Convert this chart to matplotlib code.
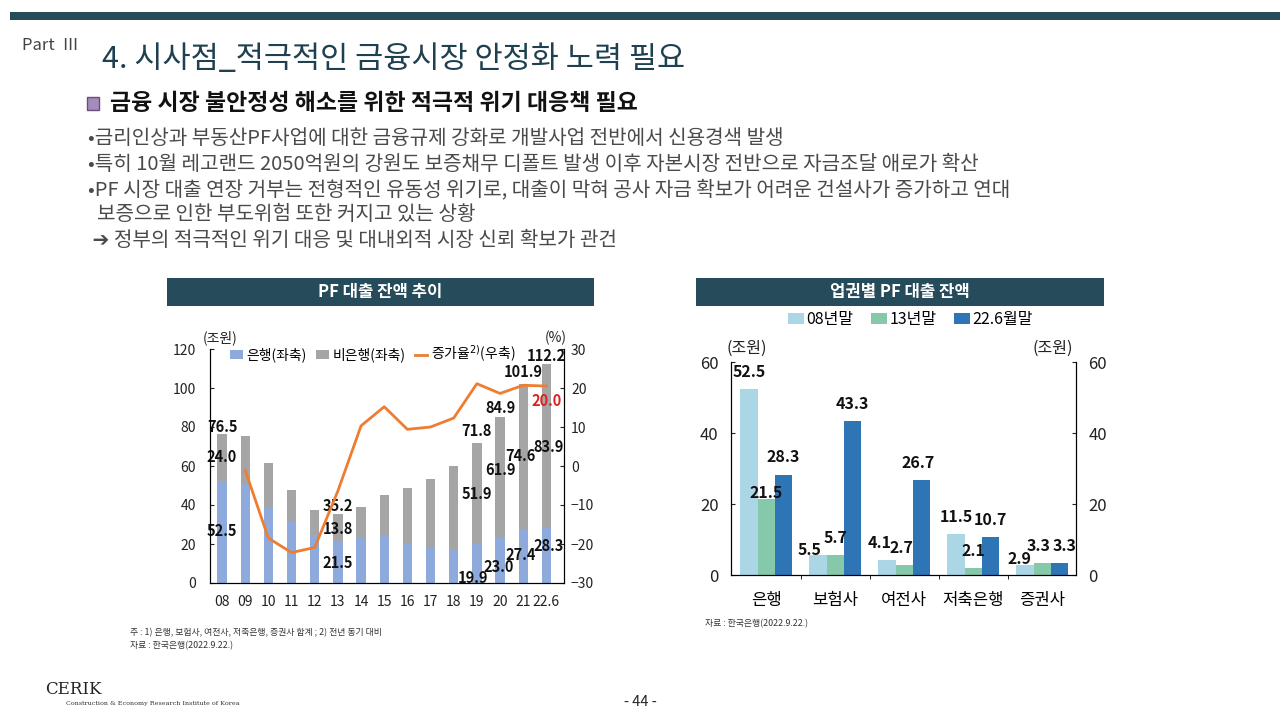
import matplotlib
matplotlib.use("Agg")
import matplotlib.pyplot as plt
import numpy as np
from matplotlib.patches import Rectangle

plt.rcParams['font.family'] = ['Noto Sans CJK KR', 'DejaVu Sans']

W, H = 1280, 720

# left chart data (조원, %)
years = ['08', '09', '10', '11', '12', '13', '14', '15', '16', '17', '18', '19', '20', '21', '22.6']
bank = [52.5, 51.0, 39.0, 31.5, 24.8, 21.5, 23.0, 24.3, 20.2, 17.8, 17.4, 19.9, 23.0, 27.4, 28.3]
nonbank = [24.0, 24.5, 22.5, 16.4, 12.8, 13.8, 16.0, 20.7, 28.5, 35.5, 42.8, 51.9, 61.9, 74.6, 83.9]
total = [76.5, 75.5, 61.5, 47.9, 37.6, 35.2, 39.0, 45.0, 48.7, 53.3, 60.2, 71.8, 84.9, 101.9, 112.2]
growth = [np.nan, -1.1, -18.5, -22.2, -20.9, -6.4, 10.3, 15.2, 9.4, 10.0, 12.3, 21.1, 18.6, 20.7, 20.5]
growth_label = 20.0

# right chart data (조원)
sectors = ['은행', '보험사', '여전사', '저축은행', '증권사']
v08 = [52.5, 5.5, 4.1, 11.5, 2.9]
v13 = [21.5, 5.7, 2.7, 2.1, 3.3]
v22 = [28.3, 43.3, 26.7, 10.7, 3.3]
series_names = ['08년말', '13년말', '22.6월말']

TEAL = '#264b5a'


def box(x0, y0, x1, y1):
    return [x0 / W, 1 - y1 / H, (x1 - x0) / W, (y1 - y0) / H]


def ftext(x, y, s, **kw):
    fig.text(x / W, 1 - y / H, s, **kw)


fig = plt.figure(figsize=(12.8, 7.2), dpi=100)
fig.patch.set_facecolor('white')

# header band
fig.patches.append(Rectangle((10 / W, 1 - 20 / H), 1, 8 / H, transform=fig.transFigure,
                             facecolor=TEAL, edgecolor='none'))
ftext(22, 45, 'Part  Ⅲ', fontsize=12, color='#444444', va='center')
ftext(102, 59, '4. 시사점_적극적인 금융시장 안정화 노력 필요', fontsize=22, color='#1f4050', va='center')

fig.patches.append(Rectangle((87 / W, 1 - 110 / H), 12 / W, 13 / H, transform=fig.transFigure,
                             facecolor='#a58bbb', edgecolor='#6b4b80', lw=1))
ftext(110, 103, '금융 시장 불안정성 해소를 위한 적극적 위기 대응책 필요', fontsize=16.5,
      fontweight='bold', color='#111111', va='center')

bullets = [
    '•금리인상과 부동산PF사업에 대한 금융규제 강화로 개발사업 전반에서 신용경색 발생',
    '•특히 10월 레고랜드 2050억원의 강원도 보증채무 디폴트 발생 이후 자본시장 전반으로 자금조달 애로가 확산',
    '•PF 시장 대출 연장 거부는 전형적인 유동성 위기로, 대출이 막혀 공사 자금 확보가 어려운 건설사가 증가하고 연대',
    '  보증으로 인한 부도위험 또한 커지고 있는 상황',
    ' ➔ 정부의 적극적인 위기 대응 및 대내외적 시장 신뢰 확보가 관건',
]
for i, b in enumerate(bullets):
    ftext(88, 139 + i * 25.3, b, fontsize=14.5, color='#4a4a4a', va='center')

# chart title boxes
for (x0, x1, t) in [(167, 594, 'PF 대출 잔액 추이'), (696, 1104, '업권별 PF 대출 잔액')]:
    fig.patches.append(Rectangle((x0 / W, 1 - 306 / H), (x1 - x0) / W, 28 / H,
                                 transform=fig.transFigure, facecolor=TEAL, edgecolor='none'))
    ftext((x0 + x1) / 2, 292, t, fontsize=12, fontweight='bold', color='white',
          ha='center', va='center')

# ---------- left chart ----------
ax = fig.add_axes(box(210, 349, 564, 583))
x = np.arange(len(years))
ax.bar(x, bank, 0.4, color='#8eaadc', label='은행(좌축)')
ax.bar(x, nonbank, 0.4, bottom=bank, color='#a5a5a5', label='비은행(좌축)')
ax.set_ylim(0, 120)
ax.set_xlim(-0.52, 14.76)
ax.set_yticks(range(0, 121, 20))
ax.set_xticks(x)
ax.set_xticklabels(years)
ax.spines['top'].set_visible(False)
for s in ['left', 'right', 'bottom']:
    ax.spines[s].set_color('#222222')
ax.tick_params(axis='y', labelsize=10, colors='#222222', direction='in', length=3, pad=10)
ax.tick_params(axis='x', labelsize=10, colors='#222222', length=0, pad=9)

ax2 = ax.twinx()
ax2.plot(x, growth, color='#ed7d31', lw=2, label='증가율$^{2)}$(우축)')
ax2.set_ylim(-30, 30)
ax2.set_yticks(range(-30, 31, 10))
ax2.spines['top'].set_visible(False)
ax2.tick_params(axis='y', labelsize=10, colors='#222222', direction='in', length=3, pad=5)

lab = dict(fontsize=10.5, fontweight='bold', color='#111111', ha='center', va='center')
# (index, total label y, nonbank label y, bank label y)
left_labels = [(0, 80.0, 64.6, 26.5), (5, 39.3, 27.7, 10.3), (11, 77.8, 45.8, 2.6),
               (12, 89.7, 57.8, 8.0), (13, 108.2, 65.3, 14.5), (14, 116.2, 70.0, 18.8)]
shift_x = {13: -0.12, 14: 0.1, 11: -0.15, 12: -0.05}
for i, yt, yn, yb in left_labels:
    ax.text(i, yt, f'{total[i]:.1f}', **lab)
    ax.text(i + (shift_x.get(i, 0) if i in (13, 14) else 0), yn, f'{nonbank[i]:.1f}', **lab)
    ax.text(i + shift_x.get(i, 0), yb, f'{bank[i]:.1f}', **lab)
ax2.text(14, 16.7, f'{growth_label:.1f}', fontsize=10.5, fontweight='bold', color='#e02020',
         ha='center', va='center')

ax.text(-0.1, 122, '(조원)', fontsize=10, color='#222222', va='bottom', ha='center')
ax.text(14.4, 122, '(%)', fontsize=10, color='#222222', va='bottom', ha='center')

h1, l1 = ax.get_legend_handles_labels()
h2, l2 = ax2.get_legend_handles_labels()
ax.legend(h1 + h2, l1 + l2, loc='upper center', bbox_to_anchor=(0.46, 1.075), ncol=3,
          frameon=False, fontsize=10, handlelength=0.9, handletextpad=0.25, columnspacing=0.7)

# ---------- right chart ----------
bx = fig.add_axes(box(731, 362, 1076, 575))
xs = np.arange(len(sectors))
bw = 0.25
cols = ['#aad6e6', '#86c8aa', '#2e75b6']
# small horizontal nudges so crowded labels stay readable
nudge = {(0, 1): -0.12, (0, 2): -0.1, (2, 2): -0.05, (0, 4): -0.08, (1, 4): -0.05, (2, 4): 0.08,
         (1, 2): -0.04}
for k, (vals, name, c) in enumerate(zip([v08, v13, v22], series_names, cols)):
    pos = xs + (k - 1) * bw
    bx.bar(pos, vals, bw, color=c, label=name)
    for j, (p, v) in enumerate(zip(pos, vals)):
        dy = 1.5 if (k, j) in [(1, 0), (0, 1), (0, 4)] else 4.8
        bx.text(p + nudge.get((k, j), 0), v + dy, f'{v:.1f}', fontsize=11.5, fontweight='bold',
                color='#111111', ha='center', va='center')
bx.set_ylim(0, 60)
bx.set_xlim(-0.51, 4.49)
bx.set_yticks(range(0, 61, 20))
bx.set_xticks(xs)
bx.set_xticklabels(sectors)
bx.set_xticks(np.arange(0.5, 4, 1), minor=True)
bx.spines['top'].set_visible(False)
bx.tick_params(axis='y', labelsize=12, colors='#222222', direction='in', length=3, pad=9)
bx.tick_params(axis='x', which='major', labelsize=12, length=0, pad=12)
bx.tick_params(axis='x', which='minor', length=3, direction='out')
bx2 = bx.twinx()
bx2.set_ylim(0, 60)
bx2.set_yticks(range(0, 61, 20))
bx2.spines['top'].set_visible(False)
bx2.tick_params(axis='y', labelsize=12, colors='#222222', direction='in', length=3, pad=9)
bx.text(-0.28, 61.5, '(조원)', fontsize=11.5, color='#222222', va='bottom', ha='center')
bx.text(4.15, 61.5, '(조원)', fontsize=11.5, color='#222222', va='bottom', ha='center')
bx.legend(loc='lower center', bbox_to_anchor=(0.52, 1.09), ncol=3, frameon=False, fontsize=11.5,
          handlelength=1.0, handletextpad=0.15, columnspacing=1.1)

# footnotes
ftext(130, 633, '주 : 1) 은행, 보험사, 여전사, 저축은행, 증권사 합계 ; 2) 전년 동기 대비', fontsize=6.4,
      color='#333333', va='center')
ftext(130, 646, '자료 : 한국은행(2022.9.22.)', fontsize=6.4, color='#333333', va='center')
ftext(705, 624, '자료 : 한국은행(2022.9.22.)', fontsize=6.4, color='#333333', va='center')

ftext(45, 689, 'CERIK', fontsize=12, family='DejaVu Serif', color='#222222', va='center')
ftext(66, 703, 'Construction & Economy Research Institute of Korea', fontsize=4.6,
      family='DejaVu Serif', color='#333333', va='center')
ftext(640, 702, '- 44 -', fontsize=10.5, color='#222222', ha='center', va='center')

fig.savefig('out.png', dpi=100)
